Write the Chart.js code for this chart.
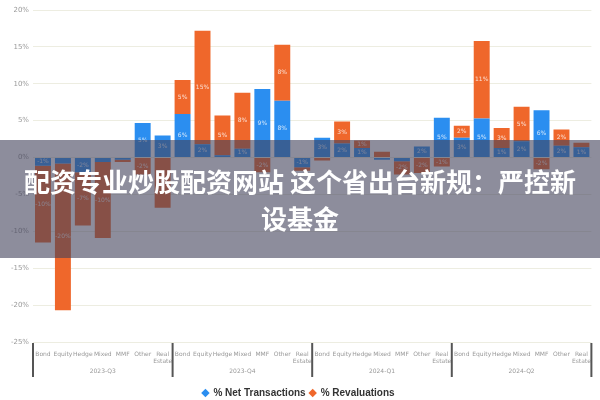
<!DOCTYPE html>
<html>
<head>
<meta charset="utf-8">
<script src="https://cdn.jsdelivr.net/npm/chart.js@4.4.1/dist/chart.umd.min.js"></script>
<style>
  html, body { margin: 0; padding: 0; background: #ffffff; }
  #wrap { position: relative; width: 600px; height: 400px; overflow: hidden; }
  #banner {
    position: absolute; left: 0; top: 140px; width: 600px; height: 118px;
    background: rgba(65, 65, 90, 0.6);
    color: #ffffff; font-family: "Noto Sans CJK SC", "Noto Sans", sans-serif;
    font-weight: 700; font-size: 26px; line-height: 37px; text-align: center;
    display: flex; flex-direction: column; justify-content: center;
  }
</style>
</head>
<body>
<div id="wrap">
  <canvas id="c" width="600" height="400"></canvas>
  <div id="banner"><div>配资专业炒股配资网站 这个省出台新规：严控新</div><div>设基金</div></div>
</div>
<script>
const categories = [
  ["Bond"], ["Equity"], ["Hedge"], ["Mixed"], ["MMF"], ["Other"], ["Real", "Estate"]
];
const groups = ["2023-Q3", "2023-Q4", "2024-Q1", "2024-Q2"];
const netTransactions = [
  -1.1, -0.8, -2.0, -0.6, -0.3, 4.7, 3.0,
  5.9, 1.8, 0.3, 1.2, 9.3, 7.7, -1.3,
  2.7, 1.9, 1.3, -0.3, -0.5, 1.5, 5.4,
  2.7, 5.3, 1.3, 2.2, 6.4, 1.6, 1.4
];
const revaluations = [
  -10.4, -19.9, -7.2, -10.3, -0.3, -2.3, -6.8,
  4.6, 15.4, 5.4, 7.6, -2.0, 7.6, -0.5,
  -0.4, 3.0, 1.0, 0.8, -1.8, -2.1, -1.2,
  1.6, 10.5, 2.7, 4.7, -1.6, 2.2, 0.6
];
const yTicks = { min: -25, max: 20, step: 5 };

const labels = [];
groups.forEach(() => categories.forEach(c => labels.push(c)));

const BLUE = '#2b8ef0';
const ORANGE = '#ef672b';

const barLabels = {
  id: 'barLabels',
  afterDatasetsDraw(chart) {
    const ctx = chart.ctx;
    ctx.save();
    ctx.font = '6px "DejaVu Sans", sans-serif';
    ctx.fillStyle = 'rgba(255,255,255,0.8)';
    ctx.textAlign = 'center';
    ctx.textBaseline = 'middle';
    chart.data.datasets.forEach((ds, di) => {
      const meta = chart.getDatasetMeta(di);
      meta.data.forEach((bar, i) => {
        const v = ds.data[i];
        const h = Math.abs(bar.base - bar.y);
        if (h < 7) return;
        ctx.fillText(Math.round(v) + '%', bar.x, (bar.y + bar.base) / 2);
      });
    });
    ctx.restore();
  }
};

const groupAxis = {
  id: 'groupAxis',
  afterDraw(chart) {
    const ctx = chart.ctx;
    const x = chart.scales.x;
    const area = chart.chartArea;
    const n = categories.length;
    const half = (x.getPixelForValue(1) - x.getPixelForValue(0)) / 2;
    ctx.save();
    ctx.strokeStyle = '#555';
    ctx.lineWidth = 2;
    for (let g = 0; g <= groups.length; g++) {
      const px = g < groups.length ? x.getPixelForValue(g * n) - half : x.getPixelForValue(g * n - 1) + half;
      ctx.beginPath();
      ctx.moveTo(px, area.bottom + 1);
      ctx.lineTo(px, area.bottom + 35);
      ctx.stroke();
    }
    ctx.font = '6px "DejaVu Sans", sans-serif';
    ctx.fillStyle = '#999';
    ctx.textAlign = 'center';
    ctx.textBaseline = 'middle';
    groups.forEach((gname, g) => {
      const cx = (x.getPixelForValue(g * n) + x.getPixelForValue(g * n + n - 1)) / 2;
      ctx.fillText(gname, cx, area.bottom + 29);
    });
    ctx.restore();
  }
};

new Chart(document.getElementById('c'), {
  type: 'bar',
  data: {
    labels: labels,
    datasets: [
      { label: '% Net Transactions', data: netTransactions, backgroundColor: BLUE, barPercentage: 0.8, categoryPercentage: 1.0 },
      { label: '% Revaluations', data: revaluations, backgroundColor: ORANGE, barPercentage: 0.8, categoryPercentage: 1.0 }
    ]
  },
  options: {
    responsive: false,
    animation: false,
    layout: { padding: { top: 10, right: 5, left: 2, bottom: -8 } },
    plugins: {
      tooltip: { enabled: false },
      legend: {
        position: 'bottom',
        labels: {
          usePointStyle: true, pointStyle: 'rectRot', boxWidth: 6, boxHeight: 6,
          padding: 4, color: '#333',
          font: { size: 10, weight: 'bold', family: '"Liberation Sans", sans-serif' }
        }
      }
    },
    scales: {
      x: {
        stacked: true,
        grid: { display: false, drawTicks: false },
        border: { display: false },
        ticks: {
          autoSkip: false, maxRotation: 0, minRotation: 0, padding: 9,
          color: '#999', font: { size: 6, family: '"DejaVu Sans", sans-serif', lineHeight: 1.2 }
        },
        afterFit(s) { s.height = 42; }
      },
      y: {
        stacked: true,
        min: yTicks.min, max: yTicks.max,
        grid: { color: 'rgba(225,225,205,0.6)', drawTicks: false },
        border: { display: false },
        ticks: {
          stepSize: yTicks.step, padding: 4, color: '#999',
          font: { size: 7, family: '"DejaVu Sans", sans-serif' },
          callback: v => v + '%'
        },
        afterFit(s) { s.width = 31; }
      }
    }
  },
  plugins: [barLabels, groupAxis]
});
</script>
</body>
</html>
